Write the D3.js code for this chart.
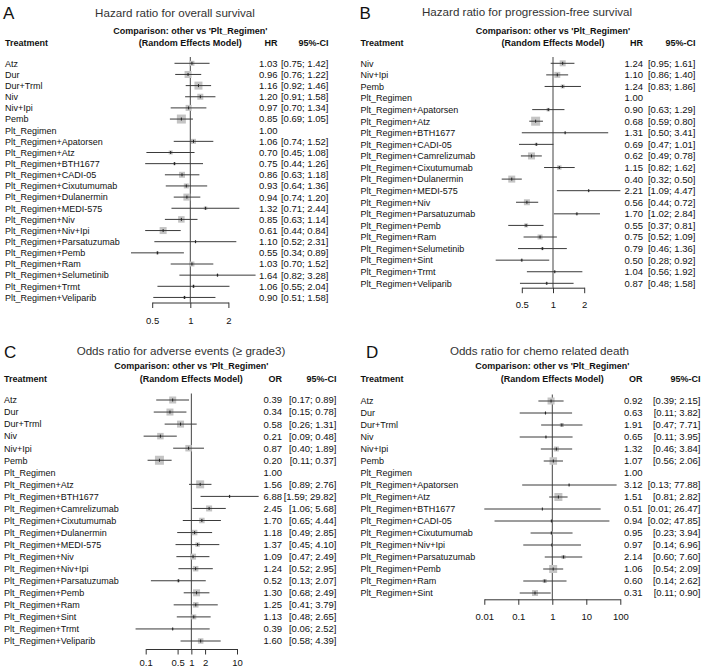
<!DOCTYPE html>
<html><head><meta charset="utf-8">
<script src="https://cdn.jsdelivr.net/npm/d3@7"></script>
<style>
body{margin:0;background:#fff}
svg{display:block}
text{font-family:"Liberation Sans",Arial,Helvetica,sans-serif;fill:#111}
</style>
</head><body>
<script>
// ---------- DATA ----------
// Panel A: Hazard ratio for overall survival
const treatA = ["Atz","Dur","Dur+Trml","Niv","Niv+Ipi","Pemb","Plt_Regimen","Plt_Regimen+Apatorsen","Plt_Regimen+Atz","Plt_Regimen+BTH1677","Plt_Regimen+CADI-05","Plt_Regimen+Cixutumumab","Plt_Regimen+Dulanermin","Plt_Regimen+MEDI-575","Plt_Regimen+Niv","Plt_Regimen+Niv+Ipi","Plt_Regimen+Parsatuzumab","Plt_Regimen+Pemb","Plt_Regimen+Ram","Plt_Regimen+Selumetinib","Plt_Regimen+Trmt","Plt_Regimen+Veliparib"];
const estA = [1.03,0.96,1.16,1.20,0.97,0.85,1.00,1.06,0.70,0.75,0.86,0.93,0.94,1.32,0.85,0.61,1.10,0.55,1.03,1.64,1.06,0.90];
const lowA = [0.75,0.76,0.92,0.91,0.70,0.69,null,0.74,0.45,0.44,0.63,0.64,0.74,0.71,0.63,0.44,0.52,0.34,0.70,0.82,0.55,0.51];
const uppA = [1.42,1.22,1.46,1.58,1.34,1.05,null,1.52,1.08,1.26,1.18,1.36,1.20,2.44,1.14,0.84,2.31,0.89,1.52,3.28,2.04,1.58];
const wtA  = [5,7,8,6,6,9,0,5,4,3,6,5,7,3.5,6.5,7,2,3,5,2.5,3,3];
const ticksA = [0.5,1,2];

// Panel B: Hazard ratio for progression-free survival
const treatB = ["Niv","Niv+Ipi","Pemb","Plt_Regimen","Plt_Regimen+Apatorsen","Plt_Regimen+Atz","Plt_Regimen+BTH1677","Plt_Regimen+CADI-05","Plt_Regimen+Camrelizumab","Plt_Regimen+Cixutumumab","Plt_Regimen+Dulanermin","Plt_Regimen+MEDI-575","Plt_Regimen+Niv","Plt_Regimen+Parsatuzumab","Plt_Regimen+Pemb","Plt_Regimen+Ram","Plt_Regimen+Selumetinib","Plt_Regimen+Sint","Plt_Regimen+Trmt","Plt_Regimen+Veliparib"];
const estB = [1.24,1.10,1.24,1.00,0.90,0.68,1.31,0.69,0.62,1.15,0.40,2.21,0.56,1.70,0.55,0.75,0.79,0.50,1.04,0.87];
const lowB = [0.95,0.86,0.83,null,0.63,0.59,0.50,0.47,0.49,0.82,0.32,1.09,0.44,1.02,0.37,0.52,0.46,0.28,0.56,0.48];
const uppB = [1.61,1.40,1.86,null,1.29,0.80,3.41,1.01,0.78,1.62,0.50,4.47,0.72,2.84,0.81,1.09,1.36,0.92,1.92,1.58];
const wtB  = [6,6,4,0,3.5,9,2,3,7,4.5,7,2,6,2.5,4,5,3,2.5,2,2.5];
const ticksB = [0.5,1,2];

// Panel C: Odds ratio for adverse events (>= grade3)
const treatC = ["Atz","Dur","Dur+Trml","Niv","Niv+Ipi","Pemb","Plt_Regimen","Plt_Regimen+Atz","Plt_Regimen+BTH1677","Plt_Regimen+Camrelizumab","Plt_Regimen+Cixutumumab","Plt_Regimen+Dulanermin","Plt_Regimen+MEDI-575","Plt_Regimen+Niv","Plt_Regimen+Niv+Ipi","Plt_Regimen+Parsatuzumab","Plt_Regimen+Pemb","Plt_Regimen+Ram","Plt_Regimen+Sint","Plt_Regimen+Trmt","Plt_Regimen+Veliparib"];
const estC = [0.39,0.34,0.58,0.21,0.87,0.20,1.00,1.56,6.88,2.45,1.70,1.18,1.37,1.09,1.24,0.52,1.30,1.25,1.13,0.39,1.60];
const lowC = [0.17,0.15,0.26,0.09,0.40,0.11,null,0.89,1.59,1.06,0.65,0.49,0.45,0.47,0.52,0.13,0.68,0.41,0.48,0.06,0.58];
const uppC = [0.89,0.78,1.31,0.48,1.89,0.37,null,2.76,29.82,5.68,4.44,2.85,4.10,2.49,2.95,2.07,2.49,3.79,2.65,2.52,4.39];
const wtC  = [7,7,7,6.5,6.5,9,0,8,2,6,5.5,5.5,4.5,6,5.5,3,7,5.5,5,2,5.5];
const ticksC = [0.1,0.5,1,2,10];

// Panel D: Odds ratio for chemo related death
const treatD = ["Atz","Dur","Dur+Trml","Niv","Niv+Ipi","Pemb","Plt_Regimen","Plt_Regimen+Apatorsen","Plt_Regimen+Atz","Plt_Regimen+BTH1677","Plt_Regimen+CADI-05","Plt_Regimen+Cixutumumab","Plt_Regimen+Niv+Ipi","Plt_Regimen+Parsatuzumab","Plt_Regimen+Pemb","Plt_Regimen+Ram","Plt_Regimen+Sint"];
const estD = [0.92,0.63,1.91,0.65,1.32,1.07,1.00,3.12,1.51,0.51,0.94,0.95,0.97,2.14,1.06,0.60,0.31];
const lowD = [0.39,0.11,0.47,0.11,0.46,0.56,null,0.13,0.81,0.01,0.02,0.23,0.14,0.60,0.54,0.14,0.11];
const uppD = [2.15,3.82,7.71,3.95,3.84,2.06,null,77.88,2.82,26.47,47.85,3.94,6.96,7.60,2.09,2.62,0.90];
const wtD  = [7,2,4,2,5,7.5,0,1.5,8,1,1,3,2,4,8,4,6];
const ticksD = [0.01,0.1,1,10,100];

const titles = ["Hazard ratio for overall survival","Hazard ratio for progression-free survival","Odds ratio for adverse events (\u2265 grade3)","Odds ratio for chemo related death"];
const letters = ["A","B","C","D"];
const measures = ["HR","HR","OR","OR"];

// ---------- LAYOUT ----------
const W = 703, H = 669;
const svg = d3.select("body").append("svg").attr("width", W).attr("height", H);

const panels = [
  {treat:treatA, est:estA, low:lowA, upp:uppA, wt:wtA, ticks:ticksA,
   letterX:3, letterY:18.5, titleX:175, titleY:17, labelX:5,
   head1Y:34, head2Y:45.7, row0:63.3, step:11.15, refTop:57,
   range:[152.2,228.4], axisY:302.5, tickLabY:323.5, estRight:277.5, ciRight:328.5},
  {treat:treatB, est:estB, low:lowB, upp:uppB, wt:wtB, ticks:ticksB,
   letterX:359.5, letterY:18.5, titleX:527, titleY:15.5, labelX:360.5,
   head1Y:34, head2Y:45.5, row0:63.3, step:11.58, refTop:57,
   range:[521.8,584.2], axisY:287.7, tickLabY:308.3, estRight:643, ciRight:695.5},
  {treat:treatC, est:estC, low:lowC, upp:uppC, wt:wtC, ticks:ticksC,
   letterX:4, letterY:358, titleX:181, titleY:355, labelX:4,
   head1Y:368.5, head2Y:381.5, row0:400, step:12.05, refTop:393.5,
   range:[145.7,237.0], axisY:649, tickLabY:666, estRight:282, ciRight:336.5},
  {treat:treatD, est:estD, low:lowD, upp:uppD, wt:wtD, ticks:ticksD,
   letterX:366, letterY:358, titleX:539.5, titleY:355, labelX:360.5,
   head1Y:369, head2Y:382, row0:401, step:12.0, refTop:394.5,
   range:[484.3,620.3], axisY:599.3, tickLabY:620, estRight:642.5, ciRight:700.5}
];

const fsLab = 9, fsNum = 9.5, fsHead = 9, fsTitle = 11.6, fsLetter = 17;
const boxScale = d3.scaleLinear().domain([0,10]).range([0,10]);

panels.forEach((p, k) => {
  const g = svg.append("g");
  const ticks = p.ticks;
  const x = d3.scaleLog().domain([d3.min(ticks), d3.max(ticks)]).range(p.range);
  const yRow = i => p.row0 + i * p.step;

  // panel letter & title
  g.append("text").attr("x", p.letterX).attr("y", p.letterY)
    .style("font-size", fsLetter + "px").text(letters[k]);
  g.append("text").attr("x", p.titleX).attr("y", p.titleY).attr("text-anchor","middle")
    .style("font-size", fsTitle + "px").style("fill","#333").text(titles[k]);

  // headers
  const hb = g.append("g").style("font-weight","bold").style("font-size", fsHead + "px");
  hb.append("text").attr("x", x(1)).attr("y", p.head1Y).attr("text-anchor","middle")
    .text("Comparison: other vs 'Plt_Regimen'");
  hb.append("text").attr("x", x(1)).attr("y", p.head2Y).attr("text-anchor","middle")
    .text("(Random Effects Model)");
  hb.append("text").attr("x", p.labelX).attr("y", p.head2Y).text("Treatment");
  hb.append("text").attr("x", p.estRight).attr("y", p.head2Y).attr("text-anchor","end").text(measures[k]);
  hb.append("text").attr("x", p.ciRight).attr("y", p.head2Y).attr("text-anchor","end").text("95%-CI");

  // reference line at 1
  g.append("line").attr("x1", x(1)).attr("x2", x(1)).attr("y1", p.refTop).attr("y2", p.axisY)
    .attr("stroke","#444").attr("stroke-width",1);

  const rows = p.treat.map((t, i) => ({t, e:p.est[i], lo:p.low[i], hi:p.upp[i], w:p.wt[i], i}));

  // labels
  g.append("g").selectAll("text").data(rows).join("text")
    .attr("x", p.labelX).attr("y", d => yRow(d.i) + 3.3)
    .style("font-size", fsLab + "px").text(d => d.t);

  const marks = rows.filter(d => d.lo !== null);
  // boxes
  g.append("g").selectAll("rect").data(marks).join("rect")
    .attr("x", d => x(d.e) - boxScale(d.w)/2).attr("y", d => yRow(d.i) - boxScale(d.w)/2)
    .attr("width", d => boxScale(d.w)).attr("height", d => boxScale(d.w))
    .attr("fill","#c4c4c4");
  // CI lines
  g.append("g").selectAll("line").data(marks).join("line")
    .attr("x1", d => x(d.lo)).attr("x2", d => x(d.hi))
    .attr("y1", d => yRow(d.i)).attr("y2", d => yRow(d.i))
    .attr("stroke","#3a3a3a").attr("stroke-width",1);
  // estimate ticks
  g.append("g").selectAll("line").data(marks).join("line")
    .attr("x1", d => x(d.e)).attr("x2", d => x(d.e))
    .attr("y1", d => yRow(d.i) - 1.5).attr("y2", d => yRow(d.i) + 1.5)
    .attr("stroke","#222").attr("stroke-width",1);

  // estimates and CI text
  g.append("g").selectAll("text").data(rows).join("text")
    .attr("x", p.estRight).attr("y", d => yRow(d.i) + 3.4).attr("text-anchor","end")
    .style("font-size", fsNum + "px").text(d => d.e.toFixed(2));
  g.append("g").selectAll("text").data(marks).join("text")
    .attr("x", p.ciRight).attr("y", d => yRow(d.i) + 3.4).attr("text-anchor","end")
    .style("font-size", fsNum + "px")
    .text(d => "[" + d.lo.toFixed(2) + "; " + d.hi.toFixed(2) + "]");

  // x axis
  const tickSize = 5.5;
  const pad = p.tickLabY - p.axisY - tickSize - 0.71 * fsNum;
  const ax = g.append("g").attr("transform", `translate(0,${p.axisY})`)
    .call(d3.axisBottom(x).tickValues(ticks).tickFormat(d => String(d))
      .tickSize(tickSize).tickSizeOuter(0).tickPadding(pad));
  ax.select(".domain").attr("stroke","#333");
  ax.selectAll(".tick line").attr("stroke","#333");
  ax.selectAll(".tick text").style("font-size", fsNum + "px")
    .style("font-family","'Liberation Sans',Arial,sans-serif").attr("fill","#111");
});
</script>
</body></html>
